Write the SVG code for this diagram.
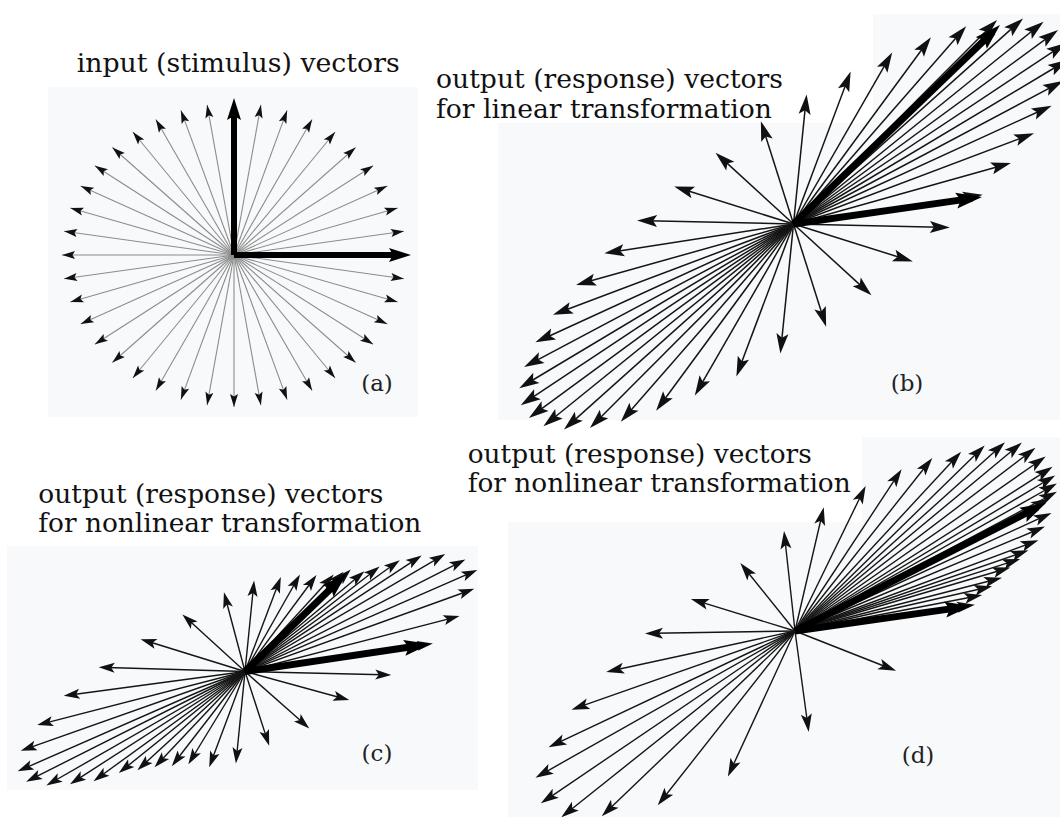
<svg xmlns="http://www.w3.org/2000/svg" width="1060" height="817" viewBox="0 0 1060 817">
<style>
.tt{font-family:'DejaVu Serif','Liberation Serif',serif;font-size:26px;fill:#111}
.lb{font-family:'DejaVu Serif',serif;font-size:23px;fill:#222}
.bg{fill:#f7f9fb}
.ta line{stroke:#8c8c8c;stroke-width:1.1;marker-end:url(#ma)}
.tb line{stroke:#151515;stroke-width:1.5;marker-end:url(#mb)}
.tc line{stroke:#151515;stroke-width:1.4;marker-end:url(#mc)}
.td line{stroke:#151515;stroke-width:1.4;marker-end:url(#md)}
.ka line{stroke:#000;stroke-width:6;marker-end:url(#mka)}
.kb line{stroke:#000;stroke-width:7;marker-end:url(#mkb)}
</style>
<defs>
<marker id="ma" markerUnits="userSpaceOnUse" markerWidth="13" markerHeight="8" refX="13" refY="4" orient="auto" overflow="visible"><path d="M0,0 L13,4 L0,8 L2.5,4z" fill="#111"/></marker>
<marker id="mb" markerUnits="userSpaceOnUse" markerWidth="20" markerHeight="12" refX="10" refY="6" orient="auto" overflow="visible"><path d="M0,0 L20,6 L0,12 L4,6z" fill="#111"/></marker>
<marker id="mc" markerUnits="userSpaceOnUse" markerWidth="16" markerHeight="10" refX="8" refY="5" orient="auto" overflow="visible"><path d="M0,0 L16,5 L0,10 L3.5,5z" fill="#111"/></marker>
<marker id="md" markerUnits="userSpaceOnUse" markerWidth="18" markerHeight="11" refX="9" refY="5.5" orient="auto" overflow="visible"><path d="M0,0 L18,5.5 L0,11 L4,5.5z" fill="#111"/></marker>
<marker id="mka" markerUnits="userSpaceOnUse" markerWidth="22" markerHeight="14" refX="12" refY="7" orient="auto" overflow="visible"><path d="M0,0 L22,7 L0,14 L4,7z" fill="#000"/></marker>
<marker id="mkb" markerUnits="userSpaceOnUse" markerWidth="26" markerHeight="16" refX="16" refY="8" orient="auto" overflow="visible"><path d="M0,0 L26,8 L0,16 L4.5,8z" fill="#000"/></marker>
</defs>
<rect width="1060" height="817" fill="#fff"/>

<g id="panel-a">
<rect class="bg" x="48" y="87" width="370" height="330"/>
<text class="tt" x="76.7" y="72" textLength="323" lengthAdjust="spacingAndGlyphs">input (stimulus) vectors</text>
<g class="ta" transform="translate(234,255)">
<line x2="172" y2="0"/><line x2="169.9" y2="-23.8"/><line x2="163.6" y2="-47"/><line x2="153.3" y2="-69"/><line x2="139.1" y2="-89.3"/><line x2="121.6" y2="-107.5"/><line x2="101.1" y2="-123"/><line x2="78.1" y2="-135.4"/><line x2="53.1" y2="-144.6"/><line x2="26.9" y2="-150.1"/>
<line x2="0" y2="-152"/><line x2="-26.9" y2="-150.1"/><line x2="-53.1" y2="-144.6"/><line x2="-78.1" y2="-135.4"/><line x2="-101.1" y2="-123"/><line x2="-121.6" y2="-107.5"/><line x2="-139.1" y2="-89.3"/><line x2="-153.3" y2="-69"/><line x2="-163.6" y2="-47"/><line x2="-169.9" y2="-23.8"/>
<line x2="-172" y2="0"/><line x2="-169.9" y2="23.8"/><line x2="-163.6" y2="47"/><line x2="-153.3" y2="69"/><line x2="-139.1" y2="89.3"/><line x2="-121.6" y2="107.5"/><line x2="-101.1" y2="123"/><line x2="-78.1" y2="135.4"/><line x2="-53.1" y2="144.6"/><line x2="-26.9" y2="150.1"/>
<line x2="0" y2="152"/><line x2="26.9" y2="150.1"/><line x2="53.1" y2="144.6"/><line x2="78.1" y2="135.4"/><line x2="101.1" y2="123"/><line x2="121.6" y2="107.5"/><line x2="139.1" y2="89.3"/><line x2="153.3" y2="69"/><line x2="163.6" y2="47"/><line x2="169.9" y2="23.8"/>
</g>
<g class="ka" transform="translate(234,255)">
<line x2="167" y2="0"/><line x2="0" y2="-147"/>
</g>
<text class="lb" x="377" y="391" text-anchor="middle">(a)</text>
</g>

<g id="panel-b">
<path class="bg" d="M873,14 H1060 V420 H498 V123 H873 Z"/>
<text class="tt" x="436" y="88" textLength="347" lengthAdjust="spacingAndGlyphs">output (response) vectors</text>
<text class="tt" x="436" y="118" textLength="336" lengthAdjust="spacingAndGlyphs">for linear transformation</text>
<g class="tb" transform="translate(793.5,224)">
<line x2="179.3" y2="-27.8"/><line x2="207.8" y2="-58.3"/><line x2="231.2" y2="-87.3"/><line x2="249" y2="-114.2"/><line x2="260.6" y2="-138.3"/><line x2="265.7" y2="-159"/><line x2="264.4" y2="-175.7"/><line x2="256.5" y2="-188.1"/><line x2="242.3" y2="-196"/><line x2="222.1" y2="-198.9"/>
<line x2="196.5" y2="-197"/><line x2="166.1" y2="-190.3"/><line x2="131.5" y2="-178.8"/><line x2="93.7" y2="-162.9"/><line x2="53.6" y2="-143.1"/><line x2="12.1" y2="-119.6"/><line x2="-29.6" y2="-93.3"/><line x2="-70.6" y2="-64.6"/><line x2="-109.8" y2="-34.5"/><line x2="-146.4" y2="-3.3"/>
<line x2="-179.3" y2="27.8"/><line x2="-207.8" y2="58.3"/><line x2="-231.2" y2="87.3"/><line x2="-249" y2="114.2"/><line x2="-260.6" y2="138.3"/><line x2="-265.7" y2="159"/><line x2="-264.4" y2="175.7"/><line x2="-256.5" y2="188.1"/><line x2="-242.3" y2="196"/><line x2="-222.1" y2="198.9"/>
<line x2="-196.5" y2="197"/><line x2="-166.1" y2="190.3"/><line x2="-131.5" y2="178.8"/><line x2="-93.7" y2="162.9"/><line x2="-53.6" y2="143.1"/><line x2="-12.1" y2="119.6"/><line x2="29.6" y2="93.3"/><line x2="70.6" y2="64.6"/><line x2="109.8" y2="34.5"/><line x2="146.4" y2="3.3"/>
</g>
<g class="kb" transform="translate(793.5,224)">
<line x2="199.3" y2="-192.1"/><line x2="178.6" y2="-25.6"/>
</g>
<text class="lb" x="907" y="391" text-anchor="middle">(b)</text>
</g>

<g id="panel-c">
<rect class="bg" x="7" y="546" width="471" height="244"/>
<text class="tt" x="38.3" y="503" textLength="345" lengthAdjust="spacingAndGlyphs">output (response) vectors</text>
<text class="tt" x="38.3" y="532" textLength="383" lengthAdjust="spacingAndGlyphs">for nonlinear transformation</text>
<g class="tc" transform="translate(245,671.5)">
<line x2="100" y2="-96.5"/><line x2="113.3" y2="-95"/><line x2="128.3" y2="-100"/><line x2="148.3" y2="-106.7"/><line x2="170" y2="-111.7"/><line x2="193.3" y2="-113.4"/><line x2="213.3" y2="-108.4"/><line x2="225" y2="-98.4"/><line x2="221.7" y2="-80"/><line x2="206.7" y2="-53.4"/>
<line x2="180" y2="-26.8"/><line x2="138.3" y2="3.3"/><line x2="96.5" y2="26.5"/><line x2="58.3" y2="51.6"/><line x2="21.7" y2="66.6"/><line x2="-8.3" y2="84"/><line x2="-33" y2="88.3"/><line x2="-52.5" y2="86"/><line x2="-68.3" y2="88.3"/><line x2="-85" y2="90"/>
<line x2="-101.7" y2="93.3"/><line x2="-120" y2="96.6"/><line x2="-145" y2="105"/><line x2="-168.3" y2="108.3"/><line x2="-191.7" y2="110"/><line x2="-211.7" y2="106.6"/><line x2="-220" y2="96.6"/><line x2="-216.7" y2="76.6"/><line x2="-200" y2="51.6"/><line x2="-173.3" y2="23.3"/>
<line x2="-138.3" y2="-4"/><line x2="-96.7" y2="-30"/><line x2="-56.7" y2="-51.7"/><line x2="-19" y2="-71.5"/><line x2="8.3" y2="-83"/><line x2="33" y2="-87"/><line x2="51" y2="-90"/><line x2="66.7" y2="-90"/><line x2="83.3" y2="-91"/><line x2="93" y2="-94"/>
</g>
<g class="kb" transform="translate(245,671.5)">
<line x2="94.5" y2="-91.3"/><line x2="175.1" y2="-26"/>
</g>
<text class="lb" x="377" y="761" text-anchor="middle">(c)</text>
</g>

<g id="panel-d">
<path class="bg" d="M508,522 H862 V437 H1060 V817 H508 Z"/>
<text class="tt" x="467.7" y="463" textLength="344" lengthAdjust="spacingAndGlyphs">output (response) vectors</text>
<text class="tt" x="467.7" y="492" textLength="383" lengthAdjust="spacingAndGlyphs">for nonlinear transformation</text>
<g class="td" transform="translate(795,631)">
<line x2="-10" y2="-91"/><line x2="26.7" y2="-115"/><line x2="66.7" y2="-137"/><line x2="101.7" y2="-154.3"/><line x2="131.7" y2="-166"/><line x2="160" y2="-172.7"/><line x2="183.3" y2="-179.3"/><line x2="203.3" y2="-182.7"/><line x2="220" y2="-182.7"/><line x2="233.3" y2="-177.7"/>
<line x2="243.3" y2="-169.3"/><line x2="250" y2="-159.3"/><line x2="252.5" y2="-151"/><line x2="254" y2="-143"/><line x2="254" y2="-135"/><line x2="246" y2="-128"/><line x2="248.3" y2="-114.3"/><line x2="241.7" y2="-101"/><line x2="235" y2="-87.7"/><line x2="225" y2="-77.7"/>
<line x2="216.7" y2="-69.3"/><line x2="206.7" y2="-61"/><line x2="198.3" y2="-51"/><line x2="188.3" y2="-42.7"/><line x2="178.3" y2="-34.3"/><line x2="171" y2="-25"/><line x2="92.7" y2="36.5"/><line x2="12.5" y2="92"/><line x2="-63.3" y2="137.3"/><line x2="-131.7" y2="167.3"/>
<line x2="-186.7" y2="179"/><line x2="-226.7" y2="180.7"/><line x2="-246.7" y2="167.3"/><line x2="-251.7" y2="142.3"/><line x2="-238.3" y2="112.3"/><line x2="-215" y2="75.7"/><line x2="-180" y2="39"/><line x2="-141" y2="2.3"/><line x2="-95.5" y2="-29.3"/><line x2="-49" y2="-61"/>
</g>
<g class="kb" transform="translate(795,631)">
<line x2="242.1" y2="-123.5"/><line x2="166.1" y2="-23.6"/>
</g>
<text class="lb" x="918" y="763" text-anchor="middle">(d)</text>
</g>
</svg>
